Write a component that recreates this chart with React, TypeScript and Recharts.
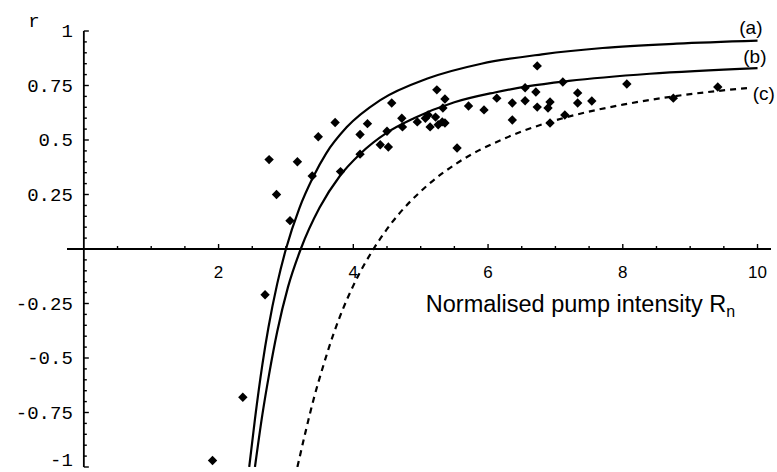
import React from 'react';
import { ComposedChart, Line, Scatter, XAxis, YAxis, ReferenceLine, ReferenceDot } from 'recharts';

// Theoretical curves (a), (b), (c)
const curveA = [
  { x: 2.455, y: -1.0 }, { x: 2.54, y: -0.78 }, { x: 2.65, y: -0.53 }, { x: 2.74, y: -0.36 },
  { x: 2.87, y: -0.16 }, { x: 3.0, y: 0.0 }, { x: 3.2, y: 0.188 }, { x: 3.4, y: 0.328 },
  { x: 3.6, y: 0.44 }, { x: 3.9, y: 0.558 }, { x: 4.4, y: 0.683 }, { x: 5.1, y: 0.782 },
  { x: 5.9, y: 0.85 }, { x: 6.8, y: 0.893 }, { x: 7.7, y: 0.922 }, { x: 8.8, y: 0.942 },
  { x: 10, y: 0.956 },
];
const curveB = [
  { x: 2.54, y: -1.0 }, { x: 2.65, y: -0.76 }, { x: 2.75, y: -0.575 }, { x: 2.87, y: -0.38 },
  { x: 3.03, y: -0.175 }, { x: 3.22, y: 0.0 }, { x: 3.5, y: 0.19 }, { x: 3.8, y: 0.335 },
  { x: 4.1, y: 0.436 }, { x: 4.5, y: 0.534 }, { x: 4.9, y: 0.6 }, { x: 5.5, y: 0.673 },
  { x: 6.1, y: 0.718 }, { x: 6.6, y: 0.747 }, { x: 7.2, y: 0.771 }, { x: 8.4, y: 0.804 },
  { x: 10, y: 0.83 },
];
const curveC = [
  { x: 3.17, y: -1.0 }, { x: 3.29, y: -0.84 }, { x: 3.41, y: -0.69 }, { x: 3.55, y: -0.54 },
  { x: 3.7, y: -0.395 }, { x: 3.85, y: -0.272 }, { x: 4.0, y: -0.168 }, { x: 4.3, y: 0.0 },
  { x: 4.55, y: 0.112 }, { x: 5.1, y: 0.292 }, { x: 5.54, y: 0.394 }, { x: 6.23, y: 0.505 },
  { x: 6.92, y: 0.583 }, { x: 7.32, y: 0.617 }, { x: 8.0, y: 0.662 }, { x: 8.75, y: 0.7 },
  { x: 9.9, y: 0.74 },
];

// Measured points (diamonds)
const measured = [
  { x: 1.91, y: -0.97 }, { x: 2.36, y: -0.68 }, { x: 2.69, y: -0.21 }, { x: 2.75, y: 0.41 },
  { x: 2.86, y: 0.25 }, { x: 3.06, y: 0.13 }, { x: 3.17, y: 0.4 }, { x: 3.39, y: 0.335 },
  { x: 3.48, y: 0.515 }, { x: 3.73, y: 0.58 }, { x: 3.81, y: 0.355 }, { x: 4.1, y: 0.435 },
  { x: 4.1, y: 0.525 }, { x: 4.21, y: 0.575 }, { x: 4.4, y: 0.478 }, { x: 4.52, y: 0.468 },
  { x: 4.5, y: 0.54 }, { x: 4.57, y: 0.67 }, { x: 4.72, y: 0.6 }, { x: 4.73, y: 0.56 },
  { x: 4.95, y: 0.583 }, { x: 5.07, y: 0.6 }, { x: 5.11, y: 0.615 }, { x: 5.14, y: 0.56 },
  { x: 5.22, y: 0.605 }, { x: 5.26, y: 0.57 }, { x: 5.32, y: 0.583 }, { x: 5.36, y: 0.578 },
  { x: 5.24, y: 0.73 }, { x: 5.36, y: 0.688 }, { x: 5.33, y: 0.647 }, { x: 5.54, y: 0.463 },
  { x: 5.71, y: 0.656 }, { x: 5.94, y: 0.638 }, { x: 6.13, y: 0.692 }, { x: 6.36, y: 0.67 },
  { x: 6.36, y: 0.592 }, { x: 6.55, y: 0.74 }, { x: 6.55, y: 0.68 }, { x: 6.71, y: 0.72 },
  { x: 6.73, y: 0.84 }, { x: 6.73, y: 0.651 }, { x: 6.92, y: 0.674 }, { x: 6.89, y: 0.647 },
  { x: 6.92, y: 0.578 }, { x: 7.11, y: 0.766 }, { x: 7.14, y: 0.615 }, { x: 7.33, y: 0.716 },
  { x: 7.33, y: 0.67 }, { x: 7.54, y: 0.679 }, { x: 8.06, y: 0.757 }, { x: 8.75, y: 0.692 },
  { x: 9.41, y: 0.743 },
];

// Ticks
const xMajorTicks = [2, 4, 6, 8, 10];
const xTickLabels = ['2', '4', '6', '8', '10'];
const xMinorTicks = [0.5, 1, 1.5, 2.5, 3, 3.5, 4.5, 5, 5.5, 6.5, 7, 7.5, 8.5, 9, 9.5];
const yMajorTicks = [-1, -0.75, -0.5, -0.25, 0.25, 0.5, 0.75, 1];
const yTickLabels = ['-1', '-0.75', '-0.5', '-0.25', '0.25', '0.5', '0.75', '1'];
const yMinorTicks = [
  -0.95, -0.9, -0.85, -0.8, -0.7, -0.65, -0.6, -0.55, -0.45, -0.4, -0.35, -0.3,
  -0.2, -0.15, -0.1, -0.05, 0.05, 0.1, 0.15, 0.2, 0.3, 0.35, 0.4, 0.45,
  0.55, 0.6, 0.65, 0.7, 0.8, 0.85, 0.9, 0.95,
];
const curveLabels = ['(a)', '(b)', '(c)'];
const yAxisName = 'r';
const xAxisName = 'Normalised pump intensity R';
const xAxisSub = 'n';

const MONO = '"Liberation Mono", "DejaVu Sans Mono", monospace';
const SANS = '"Liberation Sans", Arial, sans-serif';

const Diamond = (props: any) => {
  const { cx, cy } = props;
  if (cx == null || cy == null) return null;
  const r = 4.7;
  return <polygon points={`${cx},${cy - r} ${cx + r},${cy} ${cx},${cy + r} ${cx - r},${cy}`} fill="#000" />;
};

const xTickShape = (len: number, label?: string) => (props: any) => (
  <g>
    <line x1={props.cx} y1={props.cy} x2={props.cx} y2={props.cy - len} stroke="#000" strokeWidth={1.4} />
    {label ? (
      <text x={props.cx} y={props.cy + 29} textAnchor="middle" fontFamily={SANS} fontSize={17} fill="#000">{label}</text>
    ) : null}
  </g>
);

const yTickShape = (len: number, label?: string) => (props: any) => (
  <g>
    <line x1={props.cx} y1={props.cy} x2={props.cx + len} y2={props.cy} stroke="#000" strokeWidth={1.4} />
    {label ? (
      <text x={props.cx - 11} y={Math.min(props.cy + 6, 466)} textAnchor="end" fontFamily={MONO} fontSize={19} fill="#000">{label}</text>
    ) : null}
  </g>
);

const textShape = (text: string, dx: number, dy: number, anchor: string, font: string, size: number) => (props: any) => (
  <text x={props.cx + dx} y={props.cy + dy} textAnchor={anchor} fontFamily={font} fontSize={size} fill="#000">{text}</text>
);

const xNameShape = (props: any) => (
  <text x={props.cx + 342} y={props.cy + 63} textAnchor="start" fontFamily={SANS} fontSize={23.5} fill="#000">
    {xAxisName}
    <tspan fontSize={16} dy={5}>{xAxisSub}</tspan>
  </text>
);

export default function App() {
  const lastA = curveA[curveA.length - 1];
  const lastB = curveB[curveB.length - 1];
  const lastC = curveC[curveC.length - 1];
  return (
    <div style={{ position: 'absolute', left: 0, top: 0, background: '#fff' }}>
      <ComposedChart width={777} height={472} margin={{ top: 31, right: 6, bottom: 5, left: 67 }}>
        <XAxis type="number" dataKey="x" domain={[-0.25, 10.2]} allowDataOverflow hide />
        <YAxis type="number" dataKey="y" domain={[-1, 1]} allowDataOverflow hide />
        <ReferenceLine y={0} stroke="#000" strokeWidth={1.8} />
        <ReferenceLine x={0} stroke="#000" strokeWidth={1.8} />
        {xMinorTicks.map((t) => (
          <ReferenceDot key={'xm' + t} x={t} y={0} r={1} shape={xTickShape(3)} />
        ))}
        {xMajorTicks.map((t, i) => (
          <ReferenceDot key={'xM' + t} x={t} y={0} r={1} shape={xTickShape(5, xTickLabels[i])} />
        ))}
        {yMinorTicks.map((t) => (
          <ReferenceDot key={'ym' + t} x={0} y={t} r={1} shape={yTickShape(3)} />
        ))}
        {yMajorTicks.map((t, i) => (
          <ReferenceDot key={'yM' + t} x={0} y={t} r={1} shape={yTickShape(5, yTickLabels[i])} />
        ))}
        <ReferenceDot x={0} y={1} r={1} shape={textShape(yAxisName, -50, -4, 'middle', MONO, 19)} />
        <ReferenceDot x={0} y={0} r={1} shape={xNameShape} />
        <Line data={curveA} dataKey="y" type="monotone" stroke="#000" strokeWidth={2.2} dot={false} activeDot={false} isAnimationActive={false} />
        <Line data={curveB} dataKey="y" type="monotone" stroke="#000" strokeWidth={2.2} dot={false} activeDot={false} isAnimationActive={false} />
        <Line data={curveC} dataKey="y" type="monotone" stroke="#000" strokeWidth={2.2} strokeDasharray="6 5" dot={false} activeDot={false} isAnimationActive={false} />
        <Scatter data={measured} dataKey="y" shape={Diamond} isAnimationActive={false} />
        <ReferenceDot x={lastA.x} y={lastA.y} r={1} shape={textShape(curveLabels[0], 5, -7, 'end', SANS, 19)} />
        <ReferenceDot x={lastB.x} y={lastB.y} r={1} shape={textShape(curveLabels[1], 9, -5, 'end', SANS, 19)} />
        <ReferenceDot x={lastC.x} y={lastC.y} r={1} shape={textShape(curveLabels[2], 2, 12, 'start', SANS, 19)} />
      </ComposedChart>
    </div>
  );
}
